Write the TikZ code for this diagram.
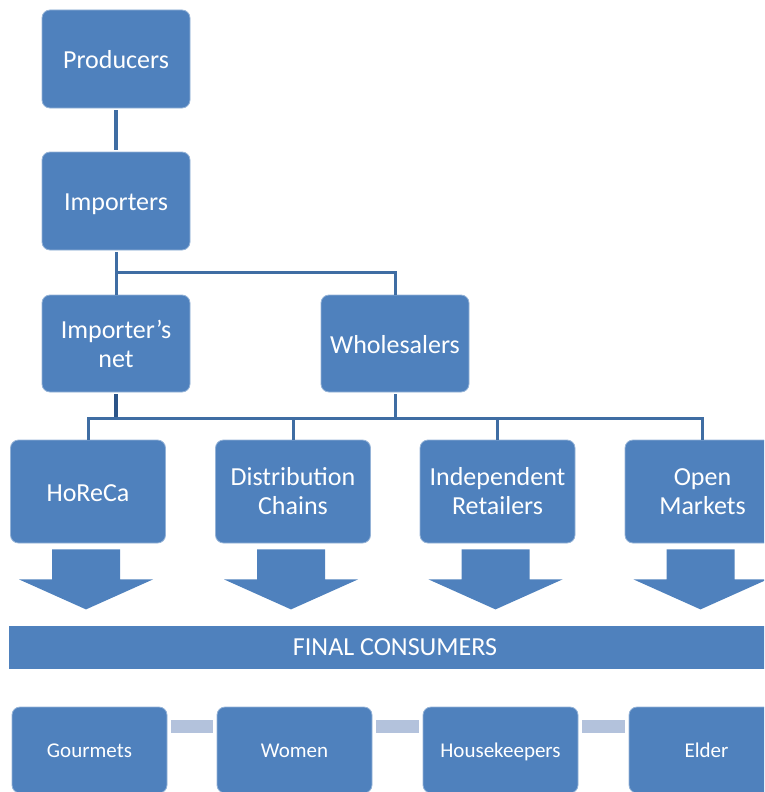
\documentclass[tikz,border=0pt]{standalone}
\usepackage{fontspec}
\setmainfont{Carlito}
\definecolor{boxblue}{HTML}{4F81BD}
\definecolor{busblue}{HTML}{3F6DA3}
\definecolor{darkbus}{HTML}{2B5488}
\definecolor{linkgray}{HTML}{B3C2DC}
\begin{document}
\begin{tikzpicture}[x=1pt, y=-1pt,
    box/.style={fill=boxblue, draw=boxblue!60!white, line width=0.8pt, rounded corners=8pt, text=white, align=center, font=\fontsize{26}{29}\selectfont, minimum width=#1, inner sep=0pt},
    box/.default=148pt,
    oneline/.style={text height=22pt, text depth=3pt},
    bus/.style={draw=busblue, line width=3pt},
    link/.style={draw=linkgray, line width=13pt, shorten <=4pt, shorten >=4pt},
    small/.style={font=\fontsize{21}{24}\selectfont, text height=17pt, text depth=2.5pt}]
    \useasboundingbox (0,0) rectangle (764,792);
    \clip (0,0) rectangle (764,792);

    % chain from producers down
    \node[box, oneline, minimum height=98pt] (prod) at (116,59) {Producers};
    \node[box, oneline, minimum height=98pt] (imp) at (116,201) {Importers};
    \node[box, minimum height=97pt] (inet) at (116,343.5) {Importer’s\\net};
    \node[box, oneline, minimum height=97pt] (whole) at (395,343.5) {Wholesalers};

    \node[box=155pt, oneline, minimum height=103pt] (horeca) at (88,491.5) {HoReCa};
    \node[box=155pt, minimum height=103pt] (dist) at (293,491.5) {Distribution\\Chains};
    \node[box=155pt, minimum height=103pt] (indep) at (497.5,491.5) {Independent\\Retailers};
    \node[box=155pt, minimum height=103pt] (open) at (702.5,491.5) {Open\\Markets};

    \draw[bus, line width=4pt, shorten <=2pt, shorten >=2pt] (prod.south) -- (imp.north);
    \coordinate (bus1) at (0,272);
    \draw[bus, shorten <=2pt] (imp.south) -- (imp.south |- bus1) -| (whole.north);
    \draw[bus] (imp.south |- bus1) -- (inet.north);

    \coordinate (bus2) at (0,418);
    \draw[bus, draw=darkbus, line width=4pt, shorten <=2pt] (inet.south) -- (inet.south |- bus2);
    \draw[bus, shorten <=2pt] (whole.south) -- (whole.south |- bus2);
    \draw[bus] (horeca.north) -- (horeca.north |- bus2) -- (open.north |- bus2) -- (open.north);
    \draw[bus] (dist.north |- bus2) -- (dist.north);
    \draw[bus] (indep.north |- bus2) -- (indep.north);

    % block arrows to the consumers
    \foreach \n in {horeca,dist,indep,open}{
        \begin{scope}[shift={(\n.south)}, xshift=-2pt]
            \fill[boxblue] (-34,6) -- (34,6) -- (34,36) -- (67,36) -- (0,66) -- (-67,36) -- (-34,36) -- cycle;
        \end{scope}
    }

    \node[fill=boxblue, text=white, minimum width=772pt, minimum height=43pt, inner sep=0pt, font=\fontsize{26}{29}\selectfont] (final) at (395,647.5) {FINAL CONSUMERS};

    \node[box=155pt, small, minimum height=86pt] (gour) at (89.5,750) {Gourmets};
    \node[box=155pt, small, minimum height=86pt] (women) at (294.5,750) {Women};
    \node[box=155pt, small, minimum height=86pt] (house) at (500.5,750) {Housekeepers};
    \node[box=155pt, small, minimum height=86pt] (elder) at (706.5,750) {Elder};

    \draw[link] ([yshift=-19.5pt]gour.north east) -- ([yshift=-19.5pt]women.north west);
    \draw[link] ([yshift=-19.5pt]women.north east) -- ([yshift=-19.5pt]house.north west);
    \draw[link] ([yshift=-19.5pt]house.north east) -- ([yshift=-19.5pt]elder.north west);
\end{tikzpicture}
\end{document}
